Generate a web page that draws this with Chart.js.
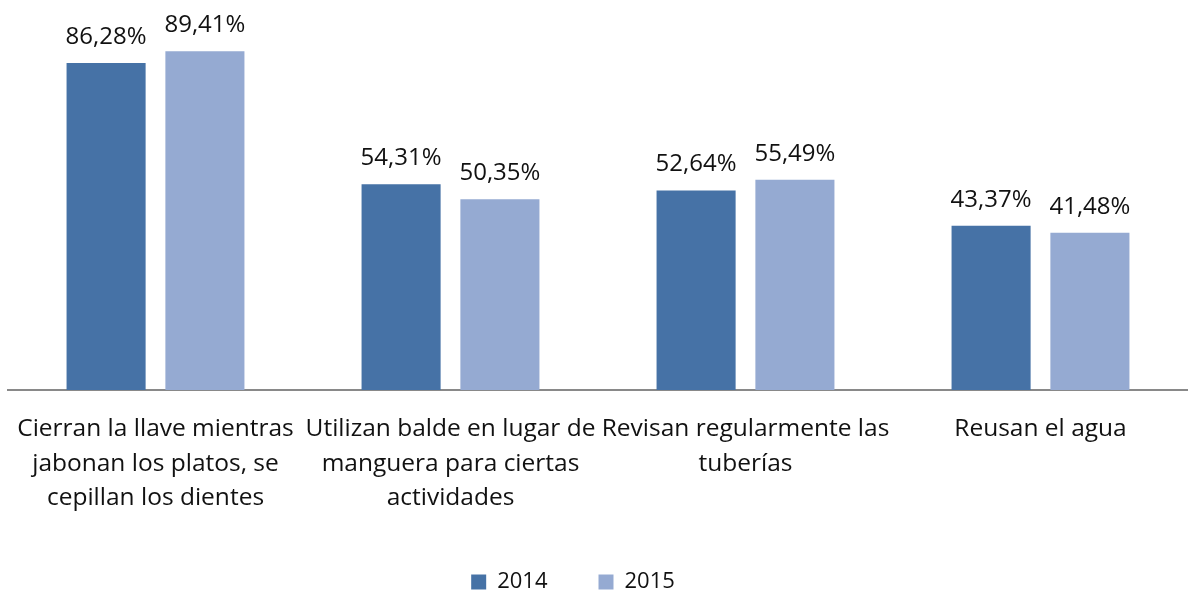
<!DOCTYPE html>
<html><head><meta charset="utf-8">
<script src="https://cdn.jsdelivr.net/npm/chart.js@4"></script>
<style>html,body{margin:0;padding:0;background:#fff;}#wrap{width:1188px;height:593px;}</style>
</head><body><div id="wrap"><canvas id="c"></canvas></div>
<script>
const categories = [
  ["Cierran la llave mientras","jabonan los platos, se","cepillan los dientes"],
  ["Utilizan balde en lugar de","manguera para ciertas","actividades"],
  ["Revisan regularmente las","tuberías"],
  ["Reusan el agua"]
];
const seriesNames = ["2014","2015"];
const values2014 = [86.28, 54.31, 52.64, 43.37];
const values2015 = [89.41, 50.35, 55.49, 41.48];
const colors = ["#4672A6","#95AAD2"];

const fmt = v => v.toFixed(2).replace('.', ',') + '%';
const FONT = "'Open Sans'";

const labelPlugin = {
  id: 'valLabels',
  afterDatasetsDraw(chart) {
    const ctx = chart.ctx;
    ctx.save();
    ctx.font = `24px ${FONT}`;
    ctx.fillStyle = '#111';
    ctx.textAlign = 'center';
    ctx.textBaseline = 'alphabetic';
    chart.data.datasets.forEach((ds, i) => {
      chart.getDatasetMeta(i).data.forEach((bar, j) => {
        ctx.fillText(fmt(ds.data[j]), bar.x, bar.y - 19);
      });
    });
    ctx.restore();
  }
};

const legendFit = {
  id: 'legendFit',
  beforeInit(chart) {
    const lg = chart.legend;
    if (!lg) return;
    const origFit = lg.fit;
    lg.fit = function () { origFit.call(this); this.height = 73; };
    const origDraw = lg.draw;
    lg.draw = function () {
      const ctx = this.ctx;
      ctx.save();
      ctx.translate(-25, 0);
      origDraw.call(this);
      ctx.restore();
    };
  }
};

new Chart(document.getElementById('c'), {
  type: 'bar',
  data: {
    labels: categories,
    datasets: [
      { label: seriesNames[0], data: values2014, backgroundColor: colors[0] },
      { label: seriesNames[1], data: values2015, backgroundColor: colors[1] }
    ]
  },
  options: {
    responsive: true,
    maintainAspectRatio: false,
    animation: false,
    layout: { padding: { top: 11, left: 8, right: 0, bottom: 0 } },
    datasets: { bar: { categoryPercentage: 0.67, barPercentage: 0.8 } },
    scales: {
      y: { display: false, min: 0, max: 100 },
      x: {
        afterFit(scale) { scale.height = 130; scale.paddingLeft = 0; scale.paddingRight = 0; },
        grid: { display: false, drawTicks: false },
        border: { display: true, color: '#898989', width: 2 },
        ticks: { color: '#111', font: { family: "Open Sans", size: 24.5, lineHeight: 1.41 }, padding: 22, maxRotation: 0, autoSkip: false }
      }
    },
    plugins: {
      legend: {
        position: 'bottom',
        labels: { boxWidth: 15, boxHeight: 15, color: '#111', font: { family: "Open Sans", size: 22 }, padding: 51 }
      },
      tooltip: { enabled: false }
    }
  },
  plugins: [labelPlugin, legendFit]
});
</script></body></html>
